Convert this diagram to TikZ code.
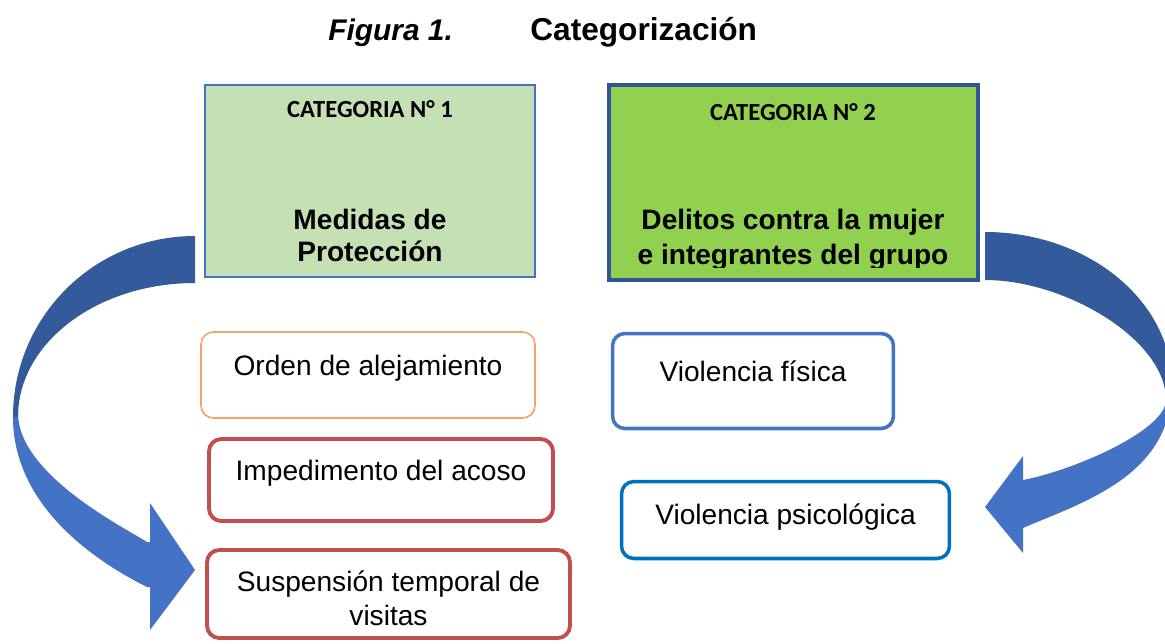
\documentclass[tikz,border=0pt]{standalone}
\usepackage{fontspec}
\setmainfont{Liberation Sans}
\newfontfamily\catfont{Carlito}
\usetikzlibrary{positioning,calc}
\definecolor{catone}{HTML}{C5E0B4}
\definecolor{cattwo}{HTML}{92D050}
\definecolor{edgeone}{HTML}{4472C4}
\definecolor{edgetwo}{HTML}{2F5597}
\definecolor{arrowdark}{HTML}{335B9C}
\definecolor{arrowlight}{HTML}{4472C4}
\definecolor{orangeedge}{HTML}{F4A46A}
\definecolor{rededge}{HTML}{C0504D}
\definecolor{blueedge}{HTML}{4472C4}
\definecolor{psiedge}{HTML}{0070C0}

\tikzset{
  catbox/.style={draw, inner sep=0pt},
  cattitle/.style={font=\catfont\bfseries\fontsize{14}{16}\selectfont, inner sep=0pt},
  catmain/.style={font=\bfseries\fontsize{16}{18}\selectfont, align=center, inner sep=0pt},
  itembox/.style={draw, rounded corners=7pt, fill=white, align=center, inner ysep=0pt,
    font=\fontsize{16}{19}\selectfont},
}

\begin{document}
\begin{tikzpicture}[x=0.02cm, y=-0.02cm]
  \useasboundingbox (0,0) rectangle (1165,643);

  % Title
  \node[anchor=base west, inner sep=0pt, font=\bfseries\itshape\fontsize{17}{20}\selectfont] (figlabel) at (328,40) {Figura 1.};
  \node[anchor=base west, inner sep=0pt, font=\bfseries\fontsize{18}{22}\selectfont] (figtitle) at (530,40) {Categorización};

  % Left arrow
  \fill[arrowlight] (13,408) -- (13,417) .. controls (13,512) and (107,567) .. (147,587) -- (150,587)
    -- (150,630) -- (195,570) -- (150,503) -- (150,542) -- (147,542)
    .. controls (127,529) and (18,475) .. (18,413) -- (18,408) -- cycle;
  \fill[arrowdark] (195,236) .. controls (94,236) and (13,317) .. (13,417) -- (18,417)
    .. controls (18,343) and (97,283) .. (195,283) -- cycle;

  % Right arrow
  \fill[arrowlight] (1172,378) -- (1172,385) .. controls (1172,476) and (1083,502) .. (1023,528) -- (1023,553)
    -- (985,507) -- (1023,456) -- (1023,480) .. controls (1075,470) and (1166,430) .. (1166,400)
    -- (1166,390) -- cycle;
  \fill[arrowdark] (985,232) .. controls (1088,232) and (1172,301) .. (1172,385) -- (1172,392) -- (1166,404)
    -- (1166,400) .. controls (1166,340) and (1066,280) .. (985,280) -- cycle;

  % Category 1
  \node[catbox, fill=catone, draw=edgeone, line width=1.1pt, minimum width=6.6cm, minimum height=3.84cm] (cat1) at (370,181) {};
  \node[cattitle, anchor=base] (cat1title) at (370,117) {CATEGORIA N° 1};
  \node[catmain, anchor=north] (cat1main) at (370,209) {Medidas de\\Protección};

  % Category 2
  \node[catbox, fill=cattwo, draw=edgetwo, line width=2.3pt, minimum width=7.38cm, minimum height=3.9cm] (cat2) at (793.5,182.5) {};
  \node[cattitle, anchor=base] (cat2title) at (793,120) {CATEGORIA N° 2};
  \begin{scope}
    \clip (607,83) rectangle (980,267);
    \node[catmain, font=\bfseries\fontsize{16}{20}\selectfont, anchor=north] (cat2main) at (793,209) {Delitos contra la mujer\\e integrantes del grupo};
  \end{scope}

  % Items of category 1
  \node[itembox, draw=orangeedge, line width=0.9pt, minimum width=6.68cm, text height=0.86cm, text depth=0.86cm] (orden) at (368,375) {Orden de alejamiento};
  \node[itembox, draw=rededge, line width=2.2pt, minimum width=6.88cm, text height=0.82cm, text depth=0.82cm] (acoso) at (381,480) {Impedimento del acoso};
  \node[itembox, draw=rededge, line width=2.2pt, minimum width=7.26cm, text height=1.5cm, text depth=0.26cm] (visitas) at (388.5,594) {Suspensión temporal de\\visitas};

  % Items of category 2
  \node[itembox, draw=blueedge, line width=2pt, minimum width=5.62cm, text height=0.95cm, text depth=0.95cm] (fisica) at (753,381) {Violencia física};
  \node[itembox, draw=psiedge, line width=2pt, minimum width=6.56cm, text height=0.85cm, text depth=0.69cm] (psico) at (785.5,520) {Violencia psicológica};
\end{tikzpicture}
\end{document}
